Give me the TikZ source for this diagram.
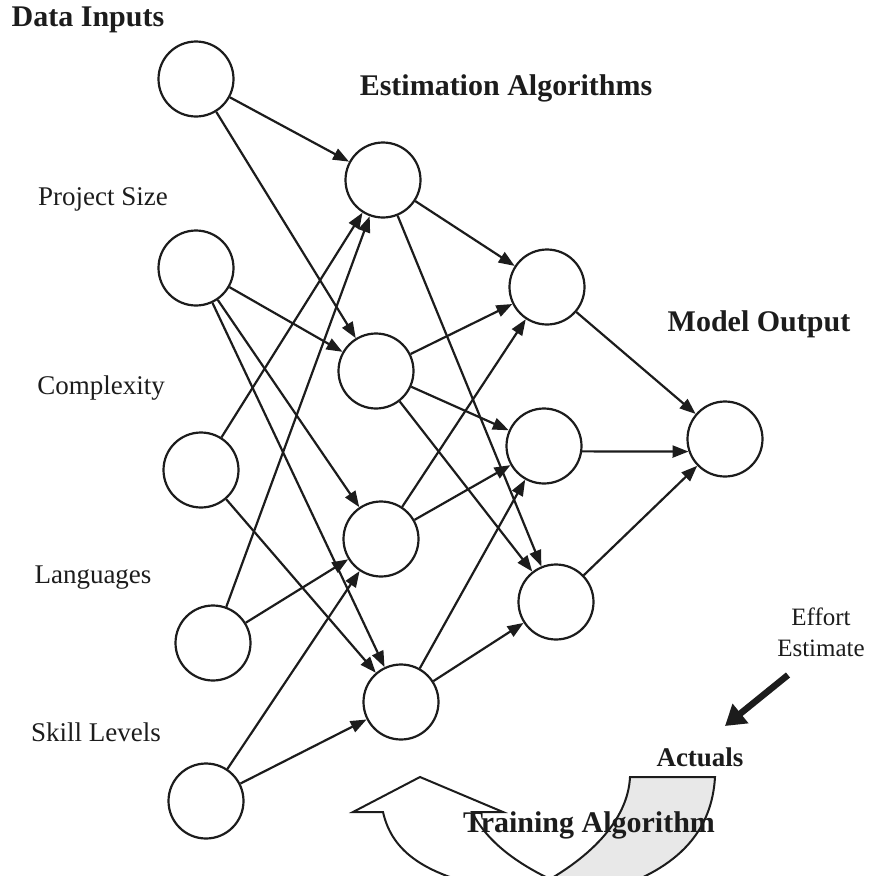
\documentclass[tikz,border=0pt]{standalone}
\usepackage{fontspec}
\setmainfont{Liberation Serif}
\usetikzlibrary{arrows.meta}
\definecolor{ink}{RGB}{28,28,28}
\definecolor{backside}{RGB}{232,232,232}
\begin{document}
\begin{tikzpicture}[x=1pt,y=-1pt,
  neuron/.style={circle,draw=ink,line width=2.2pt,minimum size=75pt,inner sep=0pt},
  link/.style={draw=ink,line width=2.2pt,-{Triangle[length=16pt,width=12pt]}},
  lbl/.style={font=\fontsize{27}{30}\selectfont,inner sep=0pt,text=ink},
  heading/.style={font=\fontsize{30}{33}\selectfont\bfseries,inner sep=0pt,text=ink},
  ribbon/.style={draw=ink,line width=2pt,line join=miter}]
\useasboundingbox (0,0) rectangle (870,876);

% input layer
\node[neuron] (i1) at (196,79) {};
\node[neuron] (i2) at (196,268) {};
\node[neuron] (i3) at (201,470) {};
\node[neuron] (i4) at (213,643) {};
\node[neuron] (i5) at (206,801) {};

% first hidden layer
\node[neuron] (h1) at (383,180) {};
\node[neuron] (h2) at (376,371) {};
\node[neuron] (h3) at (381,539) {};
\node[neuron] (h4) at (401,702) {};

% second hidden layer
\node[neuron] (g1) at (547,287) {};
\node[neuron] (g2) at (544,446) {};
\node[neuron] (g3) at (556,602) {};

% output
\node[neuron] (out) at (725,439) {};

% inputs to first layer
\draw[link] (i1) -- (h1);
\draw[link] (i1) -- (h2);
\draw[link] (i2) -- (h2);
\draw[link] (i2) -- (h3);
\draw[link] (i2) -- (h4);
\draw[link] (i3) -- (h1);
\draw[link] (i3) -- (h4);
\draw[link] (i4) -- (h1);
\draw[link] (i4) -- (h3);
\draw[link] (i5) -- (h3);
\draw[link] (i5) -- (h4);

% first layer to second layer
\draw[link] (h1) -- (g1);
\draw[link] (h1) -- (g3);
\draw[link] (h2) -- (g1);
\draw[link] (h2) -- (g2);
\draw[link] (h2) -- (g3);
\draw[link] (h3) -- (g1);
\draw[link] (h3) -- (g2);
\draw[link] (h4) -- (g2);
\draw[link] (h4) -- (g3);

% second layer to output
\draw[link] (g1) -- (out);
\draw[link] (g2.352) -- (out.199);
\draw[link] (g3) -- (out);

% labels
\node[heading] (tin) at (88,20) {Data Inputs};
\node[heading] (talg) at (506,88) {Estimation Algorithms};
\node[heading] (tout) at (759,324) {Model Output};
\node[lbl] (lsize) at (103,199) {Project Size};
\node[lbl] (lcomp) at (101,388) {Complexity};
\node[lbl] (llang) at (93,578) {Languages};
\node[lbl] (lskill) at (96,732) {Skill Levels};
\node[lbl,font=\fontsize{25}{31}\selectfont,align=center] (leff) at (821,632) {Effort\\Estimate};

% effort estimate feeds the actuals
\coordinate (effTail) at (788,675);
\coordinate (effTip) at (725,726);
\draw[ink,line width=6.5pt,-{Triangle[length=20pt,width=24pt]}] (effTail) -- (effTip);

% U-turn training arrow
\begin{scope}
\clip (0,0) rectangle (870,876);
\filldraw[ribbon,fill=white]
  (383,812) .. controls (392,852) and (425,876) .. (500,890)
  -- (575,890) .. controls (530,872) and (490,848) .. (472,812)
  -- (503,812) -- (420,777) -- (353,812) -- cycle;
\filldraw[ribbon,fill=backside]
  (630,777) -- (715,777) .. controls (712,830) and (680,868) .. (610,890)
  -- (530,890) .. controls (590,860) and (628,820) .. (630,777) -- cycle;
\end{scope}

\node[heading,font=\fontsize{27}{30}\selectfont\bfseries] (lact) at (700,757) {Actuals};
\node[heading] (ltrain) at (589,825) {Training Algorithm};
\end{tikzpicture}
\end{document}
